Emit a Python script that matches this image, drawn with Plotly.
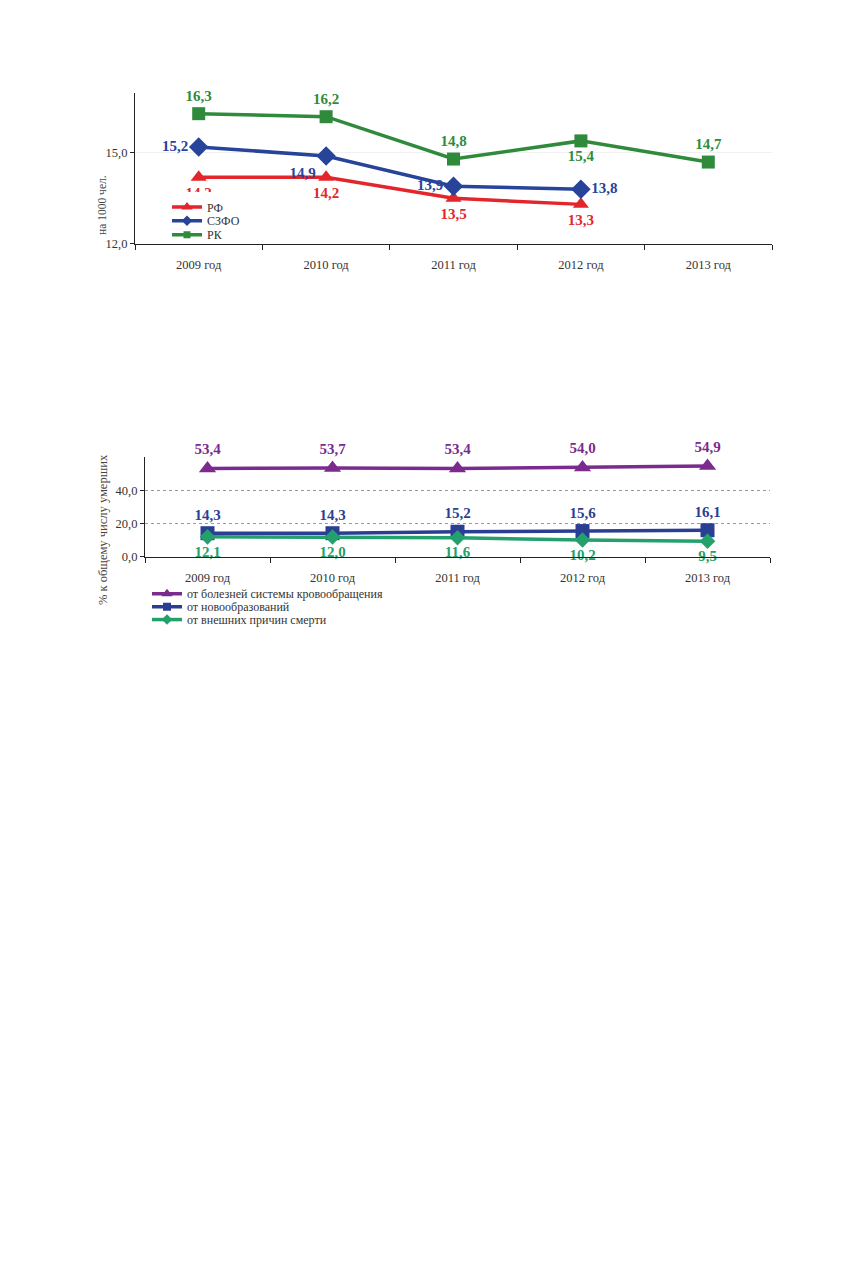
import plotly.graph_objects as go

# ---------- data ----------
years = ["2009 год", "2010 год", "2011 год", "2012 год", "2013 год"]

series1_names = ["РФ", "СЗФО", "РК"]
rf = [14.2, 14.2, 13.5, 13.3]
szfo = [15.2, 14.9, 13.9, 13.8]
rk = [16.3, 16.2, 14.8, 15.4, 14.7]

series2_names = ["от болезней системы кровообращения", "от новообразований", "от внешних причин смерти"]
circ = [53.4, 53.7, 53.4, 54.0, 54.9]
neo = [14.3, 14.3, 15.2, 15.6, 16.1]
ext = [12.1, 12.0, 11.6, 10.2, 9.5]

y1_title = "на 1000 чел."
y2_title = "% к общему числу умерших"


def lab(vals):
    return [f"{v:.1f}".replace(".", ",") for v in vals]


OFF = 8  # body margin of the html page
W, H = 856 - 2 * OFF, 1268 - 2 * OFF
SERIF = "Liberation Serif, Times New Roman, serif"

RED = "#e3262c"
BLUE = "#27449a"
GREEN = "#2f8b3b"
PURPLE = "#7b2b8d"
BLUE2 = "#2a3f93"
TEAL = "#23a06c"

fig = go.Figure()

# ---------- top chart ----------
top_specs = [
    (rf, series1_names[0], RED, "triangle-up", 14, 10, ["bottom center"] * 4, "legend"),
    (szfo, series1_names[1], BLUE, "diamond", 15, 8, ["middle left", "bottom left", "middle left", "middle right"], "legend2"),
    (rk, series1_names[2], GREEN, "square", 13, 7, ["top center", "top center", "top center", "bottom center", "top center"], "legend3"),
]
for vals, name, col, sym, ms, lms, tp, lg in top_specs:
    fig.add_trace(go.Scatter(
        x=years[:len(vals)], y=vals, name=name, mode="lines+markers+text",
        line=dict(color=col, width=3.5), marker=dict(symbol=sym, size=ms, color=col),
        text=lab(vals), textposition=tp,
        textfont=dict(family=SERIF, size=15, color=col, weight="bold"),
        xaxis="x", yaxis="y", showlegend=False, cliponaxis=False,
    ))
    fig.add_trace(go.Scatter(
        x=[None], y=[None], name=name, mode="lines+markers",
        line=dict(color=col, width=3.5), marker=dict(symbol=sym, size=lms, color=col),
        xaxis="x", yaxis="y", showlegend=True, legend=lg,
    ))

# ---------- bottom chart ----------
bot_specs = [
    (circ, series2_names[0], PURPLE, "triangle-up", 15, 10, ["top center"] * 5, "legend4"),
    (neo, series2_names[1], BLUE2, "square", 14, 8, ["top center"] * 5, "legend5"),
    (ext, series2_names[2], TEAL, "diamond", 12, 8, ["bottom center"] * 5, "legend6"),
]
for vals, name, col, sym, ms, lms, tp, lg in bot_specs:
    fig.add_trace(go.Scatter(
        x=years, y=vals, name=name, mode="lines+markers+text",
        line=dict(color=col, width=3.5), marker=dict(symbol=sym, size=ms, color=col),
        text=lab(vals), textposition=tp,
        textfont=dict(family=SERIF, size=15, color=col, weight="bold"),
        xaxis="x2", yaxis="y2", showlegend=False, cliponaxis=False,
    ))
    fig.add_trace(go.Scatter(
        x=[None], y=[None], name=name, mode="lines+markers",
        line=dict(color=col, width=3.5), marker=dict(symbol=sym, size=lms, color=col),
        xaxis="x2", yaxis="y2", showlegend=True, legend=lg,
    ))


def px_x(p):
    return (p - OFF) / W


def px_y(p):
    return 1 - (p - OFF) / H


tickfont = dict(family=SERIF, size=12.5, color="#333")

common_x = dict(
    type="category", categoryorder="array", categoryarray=years,
    range=[-0.5, 4.5], showline=True, linecolor="#222", linewidth=1.2,
    ticks="outside", tickson="boundaries", ticklen=5, tickcolor="#222",
    showgrid=False, zeroline=False, tickfont=tickfont, fixedrange=True,
    ticklabelstandoff=9,
)

legend_common = dict(
    font=dict(family=SERIF, size=12, color="#333"),
    bgcolor="rgba(255,255,255,0)", xanchor="left", yanchor="middle",
    borderwidth=0, itemclick=False,
)

fig.update_layout(
    width=W, height=H, autosize=False,
    margin=dict(l=0, r=0, t=0, b=0),
    paper_bgcolor="white", plot_bgcolor="white",
    separators=", ",
    xaxis=dict(common_x, domain=[px_x(135), px_x(772)], anchor="y"),
    yaxis=dict(
        domain=[px_y(245), px_y(93)], range=[12, 17], anchor="x",
        tickvals=[12, 15], tickformat=".1f", showline=True, linecolor="#222", linewidth=1.2,
        ticks="outside", ticklen=4, tickcolor="#222", showgrid=True, gridcolor="#f0f0f0",
        zeroline=False, tickfont=tickfont, fixedrange=True,
    ),
    xaxis2=dict(common_x, domain=[px_x(145), px_x(770)], anchor="y2"),
    yaxis2=dict(
        domain=[px_y(560), px_y(460)], range=[0, 60], anchor="x2",
        tickvals=[0, 20, 40], tickformat=".1f", showline=True, linecolor="#222", linewidth=1.2,
        ticks="outside", ticklen=4, tickcolor="#222", showgrid=True, gridcolor="#999",
        griddash="dot", gridwidth=1, zeroline=False, tickfont=tickfont, fixedrange=True,
    ),
    legend=dict(legend_common, x=px_x(167), y=px_y(208), bgcolor="white"),
    legend2=dict(legend_common, x=px_x(167), y=px_y(222)),
    legend3=dict(legend_common, x=px_x(167), y=px_y(236)),
    legend4=dict(legend_common, x=px_x(147), y=px_y(597)),
    legend5=dict(legend_common, x=px_x(147), y=px_y(610)),
    legend6=dict(legend_common, x=px_x(147), y=px_y(623)),
    annotations=[
        dict(text=y1_title, x=px_x(102), y=px_y(206), xref="paper", yref="paper",
             xanchor="center", yanchor="middle",
             textangle=-90, showarrow=False, font=dict(family=SERIF, size=11.5, color="#444")),
        dict(text=y2_title, x=px_x(103), y=px_y(533), xref="paper", yref="paper",
             xanchor="center", yanchor="middle",
             textangle=-90, showarrow=False, font=dict(family=SERIF, size=12.5, color="#444")),
    ],
)

fig.write_html("out.html")
